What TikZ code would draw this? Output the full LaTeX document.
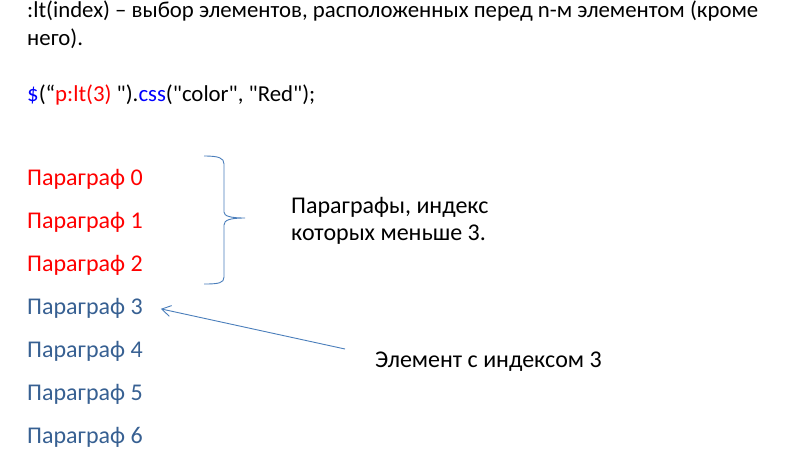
\documentclass[tikz,border=0pt]{standalone}
\usepackage{fontspec}
\setmainfont{Carlito}[Ligatures=TeXOff]
\usetikzlibrary{arrows.meta}
\definecolor{redtext}{RGB}{255,0,0}
\definecolor{bluetext}{RGB}{55,96,146}
\definecolor{codeblue}{RGB}{0,0,255}
\definecolor{linecol}{RGB}{74,126,187}

\begin{document}
\begin{tikzpicture}[x=1pt,y=-1pt,
  txt/.style={anchor=base west,inner sep=0pt,font=\fontsize{24}{28}\selectfont},
  toptxt/.style={txt,font=\fontsize{22.8}{28}\selectfont},
  redpar/.style={txt,text=redtext},
  bluepar/.style={txt,text=bluetext},
  markline/.style={draw=linecol,line width=0.9pt}]
\useasboundingbox (0,0) rectangle (792,451);
\node[toptxt] (title1) at (27,17) {:lt(index) – выбор элементов, расположенных перед n-м элементом (кроме};
\node[toptxt] (title2) at (27,45) {него).};
\node[toptxt] (code) at (27,101) {\textcolor{codeblue}{\$}(“\textcolor{redtext}{p:lt(3)} ").\textcolor{codeblue}{css}("color", "Red");};
\node[redpar] (p0) at (27,185) {Параграф 0};
\node[redpar] (p1) at (27,228) {Параграф 1};
\node[redpar] (p2) at (27,271) {Параграф 2};
\node[bluepar] (p3) at (27,314) {Параграф 3};
\node[bluepar] (p4) at (27,357) {Параграф 4};
\node[bluepar] (p5) at (27,400) {Параграф 5};
\node[bluepar] (p6) at (27,443) {Параграф 6};
\node[txt] (range1) at (291,213) {Параграфы, индекс};
\node[txt] (range2) at (291,240) {которых меньше 3.};
\node[txt] (elem) at (375,367) {Элемент с индексом 3};
\coordinate (bracetip) at (245,218);
\draw[markline] (204,156) .. controls (219,156) and (224,158) .. (224,164) -- (224,212)
  .. controls (224,216) and (230,218) .. (bracetip)
  .. controls (230,218) and (224,220) .. (224,225) -- (224,277)
  .. controls (224,283) and (219,284) .. (204,284);
\coordinate (arrowstart) at (345,349);
\draw[markline,-{Straight Barb[length=9pt,width=11pt]}] (arrowstart) -- ([xshift=18pt,yshift=-1pt]p3.east);
\end{tikzpicture}
\end{document}
